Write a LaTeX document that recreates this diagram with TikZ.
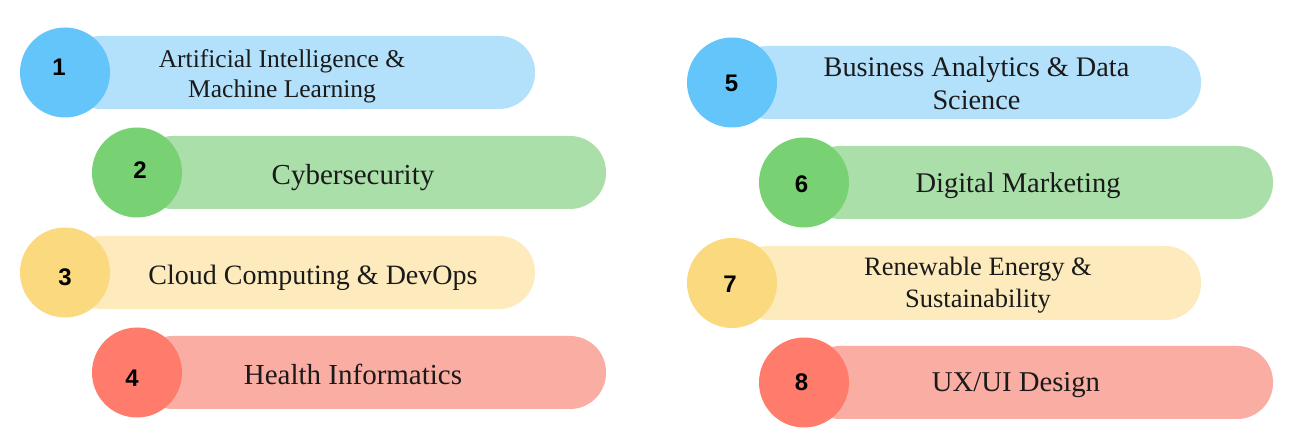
\documentclass[tikz,border=0pt]{standalone}
\usepackage{fontspec}
\setmainfont{Liberation Serif}
\newfontfamily\numfont{Liberation Sans}
\definecolor{bluepill}{HTML}{B3E0FB}
\definecolor{bluedot}{HTML}{63C5FA}
\definecolor{greenpill}{HTML}{AADFAA}
\definecolor{greendot}{HTML}{78D173}
\definecolor{yellowpill}{HTML}{FDEBBD}
\definecolor{yellowdot}{HTML}{FBD97E}
\definecolor{redpill}{HTML}{FAADA3}
\definecolor{reddot}{HTML}{FF7B6B}
\definecolor{ink}{HTML}{1A1A1A}
\tikzset{
  dot/.style={circle, minimum size=90pt, inner sep=0pt, fill=#1},
  pill/.style={fill=#1, rounded corners=36pt},
  num/.style={font=\numfont\bfseries\fontsize{24}{24}\selectfont, text=black, inner sep=0pt},
  lbl/.style={font=\fontsize{#1}{#1}\selectfont, text=ink, inner sep=0pt, anchor=base},
  lbl/.default=28.5
}
\begin{document}
\begin{tikzpicture}[x=1pt,y=-1pt]
\useasboundingbox[fill=white] (0,0) rectangle (1296,443);
% pills
\fill[pill=bluepill]   (65,36)   rectangle (535,109);
\fill[pill=greenpill]  (137,136) rectangle (606,209);
\fill[pill=yellowpill] (65,236)  rectangle (535,309);
\fill[pill=redpill]    (137,336) rectangle (606,409);
\fill[pill=bluepill]   (732,46)  rectangle (1201,119);
\fill[pill=greenpill]  (804,146) rectangle (1273,219);
\fill[pill=yellowpill] (732,246) rectangle (1201,320);
\fill[pill=redpill]    (804,346) rectangle (1273,419);
% circles
\node[dot=bluedot]   (c1) at (65,72.5) {};
\node[dot=greendot]  (c2) at (137,172.5) {};
\node[dot=yellowdot] (c3) at (65,272.5) {};
\node[dot=reddot]    (c4) at (137,372.5) {};
\node[dot=bluedot]   (c5) at (732,82.5) {};
\node[dot=greendot]  (c6) at (804,182.5) {};
\node[dot=yellowdot] (c7) at (732,283) {};
\node[dot=reddot]    (c8) at (804,382.5) {};
% numbers
\node[num] (n1) at (59,67) {1};
\node[num] (n2) at (140,170.5) {2};
\node[num] (n3) at (65,277) {3};
\node[num] (n4) at (132,378) {4};
\node[num] (n5) at (731.5,83.5) {5};
\node[num] (n6) at (801.5,184.5) {6};
\node[num] (n7) at (730,284) {7};
\node[num] (n8) at (801.5,382.5) {8};
% labels
\node[lbl=25.5] (t1a) at (282,68) {Artificial Intelligence \&};
\node[lbl=25.5] (t1b) at (282,98) {Machine Learning};
\node[lbl=29]   (t2)  at (353,185) {Cybersecurity};
\node[lbl=28]   (t3)  at (313,285) {Cloud Computing \& DevOps};
\node[lbl=29]   (t4)  at (353,385) {Health Informatics};
\node[lbl=28.3] (t5a) at (976.5,77) {Business Analytics \& Data};
\node[lbl=28.3] (t5b) at (976.5,110) {Science};
\node[lbl=28.5] (t6)  at (1018,193) {Digital Marketing};
\node[lbl=26.5] (t7a) at (978,276) {Renewable Energy \&};
\node[lbl=26.5] (t7b) at (978,308) {Sustainability};
\node[lbl=28.7] (t8)  at (1016,392) {UX/UI Design};
\end{tikzpicture}
\end{document}
